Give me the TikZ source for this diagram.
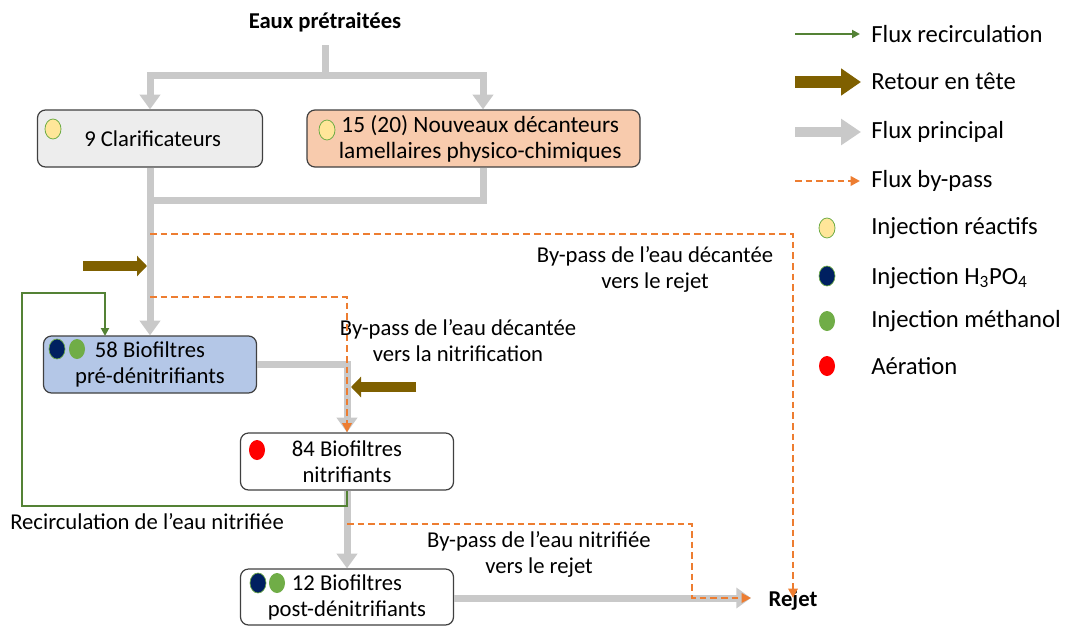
\documentclass[tikz,border=0pt]{standalone}
\usepackage{fontspec}
\setmainfont{Carlito}
\usetikzlibrary{arrows.meta,shapes.geometric}
\definecolor{flowgray}{HTML}{C9C9C9}
\definecolor{brownret}{HTML}{7F6000}
\definecolor{recgreen}{HTML}{548235}
\definecolor{bporange}{HTML}{ED7D31}
\definecolor{boxgray}{HTML}{EDEDED}
\definecolor{boxpeach}{HTML}{F8CBAD}
\definecolor{boxblue}{HTML}{B4C7E7}
\definecolor{dotyellow}{HTML}{FFE699}
\definecolor{dotgreen}{HTML}{70AD47}
\definecolor{dotblue}{HTML}{002060}
\definecolor{edgegray}{HTML}{404040}
\tikzset{
  every node/.style={font=\fontsize{17}{19.5}\selectfont, inner sep=0pt},
  procbox/.style={draw=edgegray, line width=0.9pt, rounded corners=6pt, align=center, minimum height=42.75pt},
  mainflow/.style={draw=flowgray, line width=5.25pt, -{Triangle[width=15pt,length=11pt]}},
  mainline/.style={draw=flowgray, line width=5.25pt},
  retour/.style={draw=brownret, line width=7.5pt, -{Triangle[width=15pt,length=7.5pt]}},
  recirc/.style={draw=recgreen, line width=1.5pt, -{Triangle[width=6pt,length=6pt]}},
  bypass/.style={draw=bporange, line width=1.8pt, dash pattern=on 5pt off 3pt, -{Triangle[width=7pt,length=7pt]}},
  dot/.style={ellipse, minimum width=12pt, minimum height=15pt, inner sep=0pt},
  legtext/.style={anchor=west, font=\fontsize{18.5}{21}\selectfont},
  label/.style={align=center}
}
\begin{document}
\begin{tikzpicture}[x=0.75pt,y=-0.75pt]
\useasboundingbox (0,0) rectangle (1066,625);

% ---- boxes
\node[procbox, fill=boxgray, minimum width=168.75pt] (clar) at (150,138.5) {\hspace*{4pt}9 Clarificateurs};
\node[procbox, fill=boxpeach, minimum width=249.75pt, font=\fontsize{17.5}{19.5}\selectfont] (nouv) at (473.5,138.5) {\hspace*{10pt}15 (20) Nouveaux décanteurs\\\hspace*{10pt}lamellaires physico-chimiques};
\node[procbox, fill=boxblue, minimum width=159.75pt] (b58) at (150,364.5) {58 Biofiltres\\pré-dénitrifiants};
\node[procbox, fill=white, minimum width=159.75pt] (b84) at (347,461.5) {84 Biofiltres\\nitrifiants};
\node[procbox, fill=white, minimum width=159.75pt, minimum height=42pt] (b12) at (347,597) {12 Biofiltres\\post-dénitrifiants};

% ---- dots in boxes
\node[dot, fill=dotyellow, draw=dotgreen, line width=0.6pt] (d1) at (53,129) {};
\node[dot, fill=dotyellow, draw=dotgreen, line width=0.6pt] (d2) at (327,130) {};
\node[dot, fill=dotblue, draw=dotgreen, line width=0.5pt] (d3) at (57,349) {};
\node[dot, fill=dotgreen] (d4) at (77,349) {};
\node[dot, fill=red] (d5) at (257,450) {};
\node[dot, fill=dotblue, draw=dotgreen, line width=0.5pt] (d6) at (258,583) {};
\node[dot, fill=dotgreen] (d7) at (277,583) {};

% ---- texts
\node[font=\fontsize{17}{19.5}\selectfont\bfseries] (eaux) at (325,22) {Eaux prétraitées};
\node[font=\fontsize{17}{19.5}\selectfont\bfseries] (rejet) at (793,600) {Rejet};
\node[label] (lab1) at (655,269) {By-pass de l’eau décantée\\vers le rejet};
\node[label] (lab2) at (458,341) {By-pass de l’eau décantée\\vers la nitrification};
\node[anchor=west] (lab3) at (10,522) {Recirculation de l’eau nitrifiée};
\node[label] (lab4) at (539,554) {By-pass de l’eau nitrifiée\\vers le rejet};

% ---- coordinates
\coordinate (e0) at (325,45);
\coordinate (e1) at (325,75);
\coordinate (j1) at (150,200);
\coordinate (o1) at (150,234);
\coordinate (o2) at (150,297);
\coordinate (o3) at (347,524);
\coordinate (o4) at (692,598);
\coordinate (rj) at (751,598);
\coordinate (r1) at (83,266);
\coordinate (r2) at (147,266);
\coordinate (r3) at (416,387);
\coordinate (r4) at (351,387);
\coordinate (g1) at (347,506);
\coordinate (g2) at (22,293);
\coordinate (g3) at (105,336);

% ---- main flow
\draw[mainline] (e0) -- (e1);
\draw[mainflow] (e1) -| (clar.north);
\draw[mainflow] (e1) -| ([xshift=7.125pt]nouv.north);
\draw[mainline] ([xshift=7.125pt]nouv.south) |- (j1);
\draw[mainflow] (clar.south) -- (b58.north);
\draw[mainflow] (b58.east) -| (b84.north);
\draw[mainflow] (b84.south) -- (b12.north);
\draw[mainflow] (b12.east |- rj) -- (rj);

% ---- retour en tete
\draw[retour] (r1) -- (r2);
\draw[retour] (r3) -- (r4);

% ---- recirculation
\draw[recirc] (b84.south) -- (g1) -| (g2) -| (g3);

% ---- by-pass
\draw[bypass] (o1) -| ([yshift=-6pt]rejet.north);
\draw[bypass] (o2) -| (b84.north);
\draw[bypass] (o3) -| (o4) -- (rj);

% ---- legend
\draw[recirc] (795,34) coordinate (la1) -- (860,34) coordinate (la2);
\node[legtext] (lt1) at (871,34) {Flux recirculation};
\draw[draw=brownret, line width=9pt, -{Triangle[width=19.5pt,length=15pt]}] (795,82) coordinate (lb1) -- (861,82) coordinate (lb2);
\node[legtext] (lt2) at (871,81) {Retour en tête};
\draw[draw=flowgray, line width=7.5pt, -{Triangle[width=19pt,length=15pt]}] (795,132) coordinate (lc1) -- (861,132) coordinate (lc2);
\node[legtext] (lt3) at (871,132) {Flux principal};
\draw[bypass, line width=1.8pt] (795,181) coordinate (ld1) -- (860,181) coordinate (ld2);
\node[legtext] (lt4) at (871,181) {Flux by-pass};
\node[dot, fill=dotyellow, draw=dotgreen, line width=0.6pt] (le1) at (827,228) {};
\node[legtext] (lt5) at (871,228) {Injection réactifs};
\node[dot, fill=dotblue, draw=dotgreen, line width=0.5pt] (le2) at (827,276) {};
\node[legtext] (lt6) at (871,278) {Injection H\textsubscript{3}PO\textsubscript{4}};
\node[dot, fill=dotgreen] (le3) at (827,321) {};
\node[legtext] (lt7) at (871,321) {Injection méthanol};
\node[dot, fill=red] (le4) at (827,366) {};
\node[legtext] (lt8) at (871,366) {Aération};
\end{tikzpicture}
\end{document}
